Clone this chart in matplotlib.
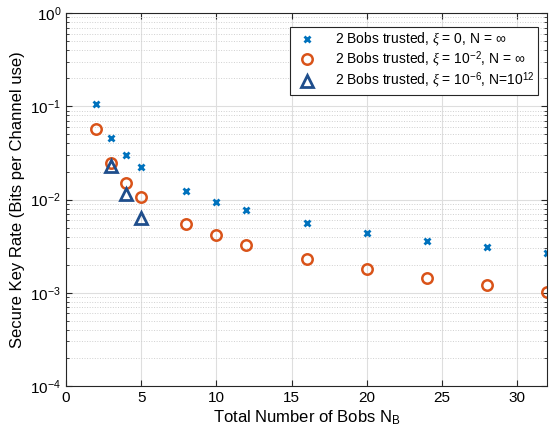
import matplotlib
matplotlib.use('Agg')
import matplotlib.pyplot as plt
import numpy as np

plt.rcParams['font.family'] = ['Liberation Sans', 'DejaVu Sans']
plt.rcParams['mathtext.fontset'] = 'custom'
plt.rcParams['mathtext.rm'] = 'Liberation Sans'
plt.rcParams['mathtext.it'] = 'Liberation Serif:italic'

# number of Bobs
nb = [2, 3, 4, 5, 8, 10, 12, 16, 20, 24, 28, 32]
nb_finite = [3, 4, 5]

# key rates
rate_xi0 = [0.106, 0.0457, 0.030, 0.0223, 0.0123, 0.0094, 0.0077, 0.0056, 0.0044, 0.0036, 0.0031, 0.00267]
rate_xi2 = [0.057, 0.0246, 0.0150, 0.0106, 0.00546, 0.00416, 0.00325, 0.0023, 0.0018, 0.00144, 0.00121, 0.00102]
rate_xi6_finite = [0.0229, 0.0115, 0.0063]

fig = plt.figure(figsize=(5.5, 4.41), dpi=100)
ax = fig.add_axes([0.12, 0.125, 0.875, 0.845])

ax.semilogy(nb, rate_xi0, 'x', color='#0072BD', ms=5, mew=2,
            label=r'2 Bobs trusted, $\xi$ = 0, N = $\infty$')
ax.semilogy(nb, rate_xi2, 'o', color='#D95319', ms=7.5, mew=1.8, mfc='none',
            label=r'2 Bobs trusted, $\xi$ = 10$^{-2}$, N = $\infty$')
ax.semilogy(nb_finite, rate_xi6_finite, '^', color='#1F4E8C', ms=8, mew=2, mfc='none',
            label=r'2 Bobs trusted, $\xi$ = 10$^{-6}$, N=10$^{12}$')

ax.set_xlim(0, 32)
ax.set_ylim(1e-4, 1)
ax.set_xticks([0, 5, 10, 15, 20, 25, 30])

ax.grid(True, which='major', color='#dedede', linewidth=0.8, linestyle='-')
ax.grid(True, which='minor', axis='y', color='#d0d0d0', linewidth=0.7, linestyle=':')
ax.set_axisbelow(True)

ax.tick_params(which='both', direction='in', top=True, right=True, labelsize=11, color='#262626')
ax.tick_params(which='major', length=4)
ax.tick_params(which='minor', length=2)
for s in ax.spines.values():
    s.set_color('#262626')
    s.set_linewidth(0.8)

ax.set_xlabel(r'Total Number of Bobs N$_\mathrm{B}$', fontsize=12, labelpad=3)
ax.set_ylabel('Secure Key Rate (Bits per Channel use)', fontsize=12)

leg = ax.legend(loc='upper right', bbox_to_anchor=(0.981, 0.962), borderaxespad=0,
                fontsize=10, fancybox=False, framealpha=1, edgecolor='#262626',
                borderpad=0.25, handletextpad=1.0, handlelength=2.0, labelspacing=0.1)
leg.get_frame().set_linewidth(0.8)

plt.savefig('out.png', dpi=100)
